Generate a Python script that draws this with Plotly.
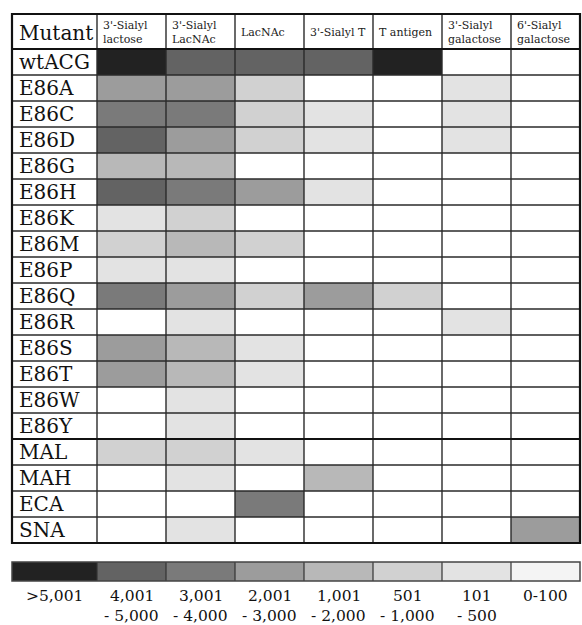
import plotly.graph_objects as go

# ---------------- data ----------------
mutants = ["wtACG", "E86A", "E86C", "E86D", "E86G", "E86H", "E86K", "E86M", "E86P",
           "E86Q", "E86R", "E86S", "E86T", "E86W", "E86Y", "MAL", "MAH", "ECA", "SNA"]
glycans = ["3'-Sialyl<br>lactose", "3'-Sialyl<br>LacNAc", "LacNAc", "3'-Sialyl T",
           "T antigen", "3'-Sialyl<br>galactose", "6'-Sialyl<br>galactose"]

# signal level per cell: 0 = 0-100, 1 = 101-500, 2 = 501-1,000, 3 = 1,001-2,000,
# 4 = 2,001-3,000, 5 = 3,001-4,000, 6 = 4,001-5,000, 7 = >5,001
sialyl_lactose    = [7, 4, 5, 6, 3, 6, 1, 2, 1, 5, 0, 4, 4, 0, 0, 2, 0, 0, 0]
sialyl_lacnac     = [6, 4, 5, 4, 3, 5, 2, 3, 1, 4, 1, 3, 3, 1, 1, 2, 1, 0, 1]
lacnac            = [6, 2, 2, 2, 0, 4, 0, 2, 0, 2, 0, 1, 1, 0, 0, 1, 0, 5, 0]
sialyl_t          = [6, 0, 1, 1, 0, 1, 0, 0, 0, 4, 0, 0, 0, 0, 0, 0, 3, 0, 0]
t_antigen         = [7, 0, 0, 0, 0, 0, 0, 0, 0, 2, 0, 0, 0, 0, 0, 0, 0, 0, 0]
sialyl3_galactose = [0, 1, 1, 1, 0, 0, 0, 0, 0, 0, 1, 0, 0, 0, 0, 0, 0, 0, 0]
sialyl6_galactose = [0, 0, 0, 0, 0, 0, 0, 0, 0, 0, 0, 0, 0, 0, 0, 0, 0, 0, 4]

legend_levels = [7, 6, 5, 4, 3, 2, 1, 0]
legend_line1 = [">5,001", "4,001", "3,001", "2,001", "1,001", "501", "101", "0-100"]
legend_line2 = ["", "- 5,000", "- 4,000", "- 3,000", "- 2,000", "- 1,000", "- 500", ""]

# ---------------- styling ----------------
level_colors = ["#ffffff", "#e3e3e3", "#d1d1d1", "#b8b8b8", "#9c9c9c", "#7a7a7a", "#636363", "#222222"]
legend_colors = ["#f4f4f4"] + level_colors[1:]
FONT = "DejaVu Serif"
W, H = 582, 625
X0, CW = 97, 69      # left px of first data column, column width px
Y0, RH = 49, 26      # top px of first data row, row height px
TABLE_L, TABLE_T = 12, 14
LEG_T, LEG_B = 562, 581


def xd(px):
    return (px - X0) / CW - 0.5


def yd(px):
    return (px - Y0) / RH - 0.5


def discrete_scale(colors):
    n = len(colors)
    sc = []
    for i, c in enumerate(colors):
        sc.append([i / n, c])
        sc.append([(i + 1) / n, c])
    return sc


columns = [sialyl_lactose, sialyl_lacnac, lacnac, sialyl_t, t_antigen,
           sialyl3_galactose, sialyl6_galactose]
z = [[col[r] for col in columns] for r in range(len(mutants))]
n_rows, n_cols = len(mutants), len(glycans)

fig = go.Figure()
fig.add_trace(go.Heatmap(
    z=z, x=list(range(n_cols)), y=list(range(n_rows)),
    colorscale=discrete_scale(level_colors), zmin=-0.5, zmax=7.5,
    showscale=False, hoverinfo="skip"))

# legend bar as a heatmap using bin edges
leg_x_edges = [xd(TABLE_L)] + [i - 0.5 for i in range(n_cols + 1)]
fig.add_trace(go.Heatmap(
    z=[legend_levels], x=leg_x_edges, y=[yd(LEG_T), yd(LEG_B)],
    colorscale=discrete_scale(legend_colors), zmin=-0.5, zmax=7.5,
    showscale=False, hoverinfo="skip"))

shapes = []
line_col = "#2a2a2a"
top = yd(TABLE_T)
bottom = n_rows - 0.5
left = xd(TABLE_L)
right = n_cols - 0.5
# vertical grid lines
for i in range(n_cols):
    shapes.append(dict(type="line", x0=i - 0.5, x1=i - 0.5, y0=top, y1=bottom,
                       line=dict(color=line_col, width=1.4)))
# horizontal grid lines
for r in range(-1, n_rows - 1):
    thick = r in (-1, 14)
    shapes.append(dict(type="line", x0=left, x1=right, y0=r + 0.5, y1=r + 0.5,
                       line=dict(color="#111" if thick else line_col, width=2.2 if thick else 1.4)))
# outer border
shapes.append(dict(type="rect", x0=left, x1=right, y0=top, y1=bottom,
                   line=dict(color="#111", width=2.2)))
# legend separators and border
for e in leg_x_edges[1:-1]:
    shapes.append(dict(type="line", x0=e, x1=e, y0=yd(LEG_T), y1=yd(LEG_B),
                       line=dict(color="#333", width=1.2)))
shapes.append(dict(type="rect", x0=leg_x_edges[0], x1=leg_x_edges[-1], y0=yd(LEG_T), y1=yd(LEG_B),
                   line=dict(color="#444", width=1.5)))

annotations = []
# header
annotations.append(dict(x=xd(17), y=yd(33), text="Mutant", xanchor="left", yanchor="middle",
                        showarrow=False, font=dict(family=FONT, size=20, color="#111")))
for j, g in enumerate(glycans):
    annotations.append(dict(x=j - 0.5 + 4 / CW, y=yd(32.5), text=g, xanchor="left", yanchor="middle",
                            align="left", showarrow=False,
                            font=dict(family=FONT, size=11, color="#222")))
# row labels
for r, m in enumerate(mutants):
    annotations.append(dict(x=xd(17), y=r, text=m, xanchor="left", yanchor="middle",
                            showarrow=False, font=dict(family=FONT, size=20, color="#111")))
# legend labels
for k in range(len(legend_levels)):
    cx = (leg_x_edges[k] + leg_x_edges[k + 1]) / 2
    annotations.append(dict(x=cx, y=yd(595.5), text=legend_line1[k], xanchor="center", yanchor="middle",
                            showarrow=False, font=dict(family=FONT, size=15.5, color="#111")))
    if legend_line2[k]:
        annotations.append(dict(x=cx, y=yd(616), text=legend_line2[k], xanchor="center", yanchor="middle",
                                showarrow=False, font=dict(family=FONT, size=15.5, color="#111")))

axis_common = dict(showgrid=False, zeroline=False, showticklabels=False, ticks="",
                   showline=False, fixedrange=True)
fig.update_layout(
    width=W, height=H, margin=dict(l=0, r=0, t=0, b=0),
    paper_bgcolor="white", plot_bgcolor="white",
    xaxis=dict(range=[xd(0), xd(W)], domain=[0, 1], **axis_common),
    yaxis=dict(range=[yd(H), yd(0)], domain=[0, 1], **axis_common),
    shapes=shapes, annotations=annotations, showlegend=False)

fig.write_html("out.html", config={"displayModeBar": False},
               post_script="document.body.style.margin='0';document.body.style.overflow='hidden';")
